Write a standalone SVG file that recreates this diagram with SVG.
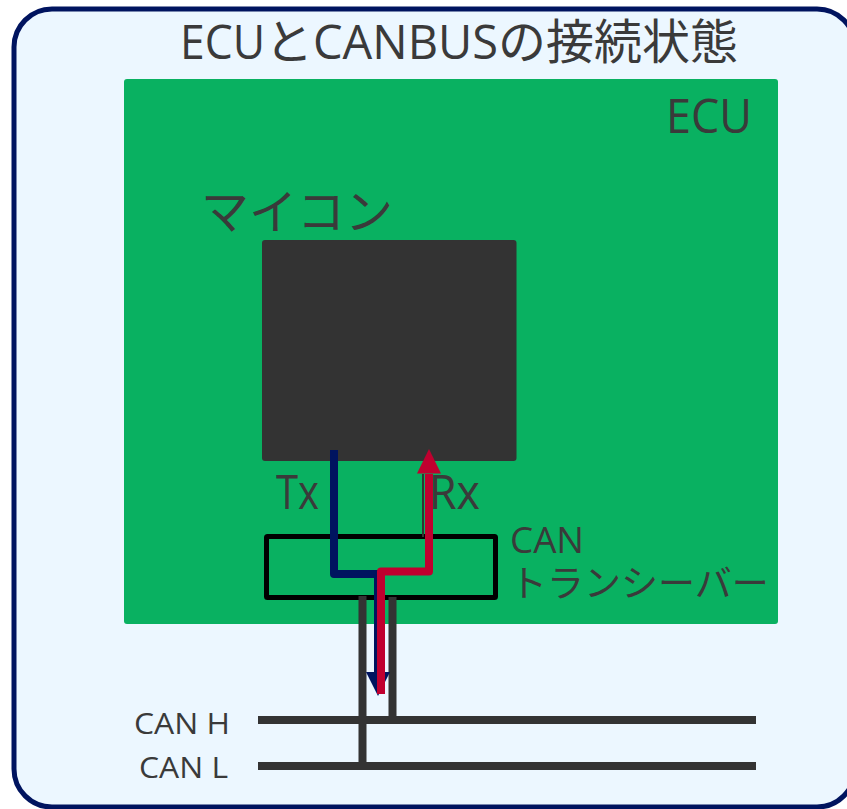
<svg xmlns="http://www.w3.org/2000/svg" width="847" height="809" viewBox="0 0 847 809">
<style>
text{font-family:"Open Sans","Noto Sans CJK JP",sans-serif;fill:#3a3a3a;font-weight:400;font-size:48px}
.j{font-family:"Noto Sans CJK JP","Open Sans",sans-serif}
.m{font-size:36px}
.k{font-size:37px}
.s{font-size:30px}
.w{fill:none;stroke:#333;stroke-width:8}
</style>
<g id="frame"><rect x="14" y="9" width="841" height="798" rx="38" fill="#ecf7ff" stroke="#00145f" stroke-width="5"/>
<text y="59" xml:space="preserve"><tspan x="180" textLength="85" lengthAdjust="spacingAndGlyphs">ECU</tspan><tspan x="265" class="j">と</tspan><tspan x="313" textLength="185" lengthAdjust="spacingAndGlyphs">CANBUS</tspan><tspan x="498" class="j">の接続状態</tspan></text></g>
<g id="ecu"><rect x="124" y="79" width="654" height="545" rx="3" fill="#09b161"/>
<text x="666" y="133" textLength="86" lengthAdjust="spacingAndGlyphs">ECU</text></g>
<g id="mcu"><rect x="262" y="240" width="254.500" height="221" rx="3" fill="#333"/>
<text class="j" x="201" y="229">マイコン</text></g>
<g id="transceiver"><rect x="266.500" y="536.500" width="229" height="61" rx="1" fill="none" stroke="#000" stroke-width="5"/>
<text class="m" x="510" y="553" textLength="74" lengthAdjust="spacingAndGlyphs">CAN</text><text class="j k" x="510" y="597">トランシーバー</text></g>
<g id="labels"><text x="276" y="509" textLength="43" lengthAdjust="spacingAndGlyphs">Tx</text><text x="429" y="509" textLength="51" lengthAdjust="spacingAndGlyphs">Rx</text>
<text class="s" x="134" y="734" textLength="96" lengthAdjust="spacingAndGlyphs">CAN H</text><text class="s" x="139" y="778" textLength="89" lengthAdjust="spacingAndGlyphs">CAN L</text></g>
<g id="connectors">
<path class="w" d="M258 720H756M258 766H756M362.500 596V766M392.500 597V720"/>
<path d="M423 474V537" fill="none" stroke="#333" stroke-width="2"/>
<path d="M334 450V574H378V680" fill="none" stroke="#00145f" stroke-width="8" stroke-linejoin="round"/>
<path d="M366 672H390L378 696Z" fill="#00145f"/>
<path d="M381 694V571.500H429V474" fill="none" stroke="#c0002f" stroke-width="8" stroke-linejoin="round"/>
<path d="M417 473.500L429 449L441 473.500Z" fill="#c0002f"/>
</g>
</svg>
